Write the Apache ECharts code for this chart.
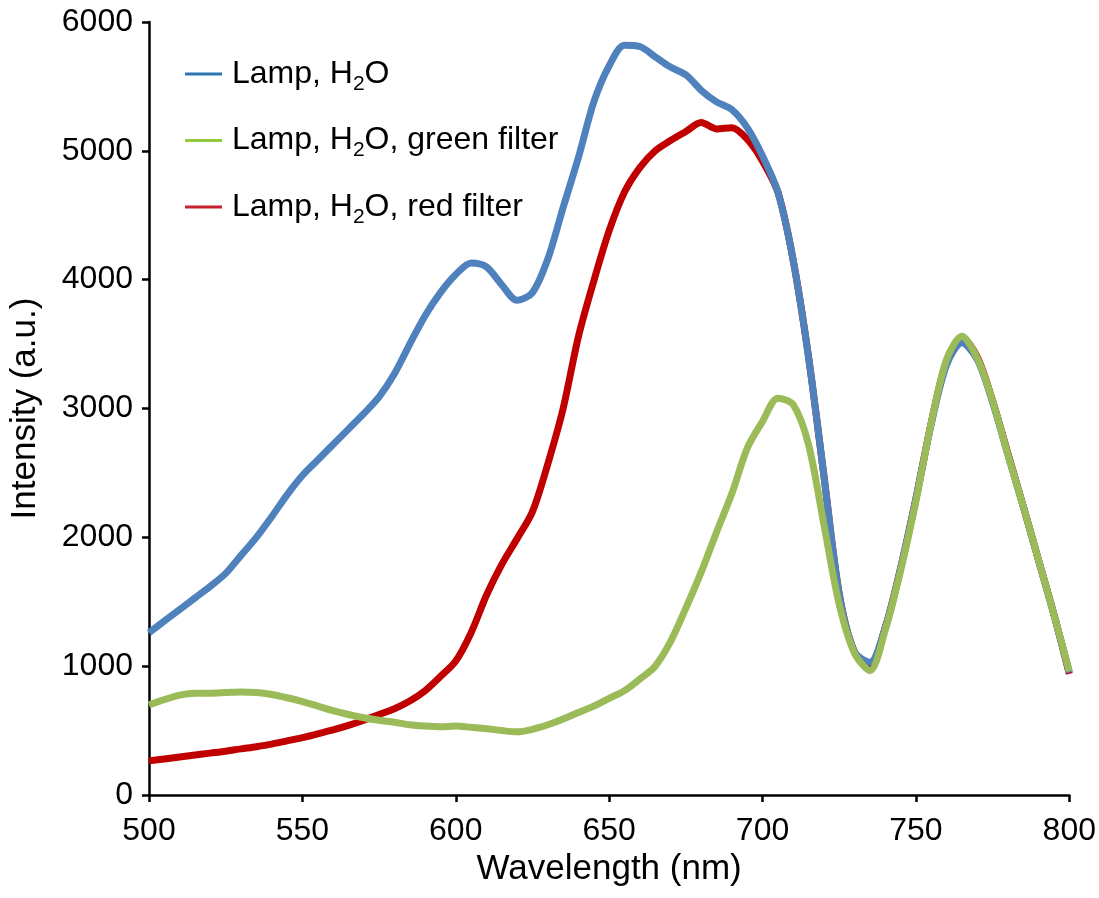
<!DOCTYPE html>
<html>
<head>
<meta charset="utf-8">
<script src="https://cdn.jsdelivr.net/npm/echarts@6/dist/echarts.min.js"></script>
<style>
  html, body { margin: 0; padding: 0; background: #fff; }
  #chart { width: 1099px; height: 898px; }
</style>
</head>
<body>
<div id="chart"></div>
<script>
// wavelength grid (nm), 5 nm step
const wavelengths = [
  500, 505, 510, 515, 520, 525, 530, 535, 540, 545,
  550, 555, 560, 565, 570, 575, 580, 585, 590, 595,
  600, 605, 610, 615, 620, 625, 630, 635, 640, 645,
  650, 655, 660, 665, 670, 675, 680, 685, 690, 695,
  700, 705, 710, 715, 720, 725, 730, 735, 740, 745,
  750, 755, 760, 765, 770, 775, 780, 785, 790, 795, 800
]

// Lamp, H2O
const lampWater = [
  1260, 1350, 1440, 1530, 1620, 1720, 1860, 2000, 2160, 2330,
  2480, 2600, 2720, 2840, 2960, 3090, 3270, 3500, 3720, 3900,
  4040, 4130, 4100, 3960, 3840, 3900, 4160, 4560, 4950, 5380,
  5660, 5820, 5810, 5730, 5650, 5590, 5470, 5380, 5320, 5180,
  4960, 4680, 4150, 3400, 2480, 1560, 1110, 1030, 1300, 1760,
  2300, 2880, 3340, 3510, 3380, 3050, 2640, 2240, 1820, 1400, 950
]

// Lamp, H2O, green filter
const greenFilter = [
  700, 740, 775, 790, 790, 795, 800, 795, 780, 755,
  725, 690, 655, 625, 600, 580, 565, 545, 535, 530,
  535, 525, 515, 500, 490, 510, 545, 590, 640, 690,
  750, 810, 900, 1000, 1190, 1450, 1730, 2040, 2340, 2690,
  2900, 3080, 3030, 2720, 2100, 1480, 1100, 965, 1280, 1740,
  2280, 2890, 3380, 3560, 3390, 3060, 2640, 2240, 1820, 1400, 960
]

// Lamp, H2O, red filter
const redFilter = [
  265, 280, 295, 310, 325, 340, 358, 375, 395, 420,
  445, 475, 505, 540, 580, 625, 670, 730, 810, 920,
  1040, 1260, 1550, 1790, 1990, 2200, 2570, 3000, 3560, 3990,
  4380, 4680, 4870, 5000, 5080, 5150, 5220, 5170, 5180, 5090,
  4920, 4680, 4150, 3400, 2480, 1560, 1110, 1020, 1300, 1760,
  2300, 2890, 3370, 3550, 3400, 3060, 2650, 2240, 1820, 1400, 940
]

const xTicks = { min: 500, max: 800, interval: 50 }
const yTicks = { min: 0, max: 6000, interval: 1000 }

const font = "'Liberation Sans', Arial, sans-serif"

function pairs(values) {
  return wavelengths.map((w, i) => [w, values[i]])
}

function legendLabel(name) {
  // H2O with a subscript 2
  return name.replace('H2O', 'H{sub|2}O')
}

const chart = echarts.init(document.getElementById('chart'))

const option = {
  backgroundColor: '#fff',
  animation: false,
  grid: {
    left: 149,
    right: 29,
    top: 22,
    bottom: 103
  },
  legend: {
    orient: 'vertical',
    left: 180,
    top: 53,
    itemWidth: 37,
    itemHeight: 3,
    itemGap: 30,
    icon: 'rect',
    data: [
      { name: 'Lamp, H2O', itemStyle: { color: '#2E75B6' } },
      { name: 'Lamp, H2O, green filter', itemStyle: { color: '#92C83E' } },
      { name: 'Lamp, H2O, red filter', itemStyle: { color: '#C8202F' } }
    ],
    formatter: legendLabel,
    textStyle: {
      fontFamily: font,
      fontSize: 32,
      color: '#000',
      padding: [0, 0, 0, 5],
      rich: {
        sub: {
          fontFamily: font,
          fontSize: 21,
          color: '#000',
          padding: [20, 0, 0, 0]
        }
      }
    }
  },
  xAxis: {
    type: 'value',
    min: xTicks.min,
    max: xTicks.max,
    interval: xTicks.interval,
    name: 'Wavelength (nm)',
    nameLocation: 'middle',
    nameGap: 52,
    nameTextStyle: { fontFamily: font, fontSize: 35, color: '#000' },
    axisLine: { lineStyle: { color: '#000', width: 2.5 } },
    axisTick: { show: true, inside: false, length: 7, lineStyle: { color: '#000', width: 2.5 } },
    axisLabel: { fontFamily: font, fontSize: 32, color: '#000', margin: 20 },
    splitLine: { show: false }
  },
  yAxis: {
    type: 'value',
    min: yTicks.min,
    max: yTicks.max,
    interval: yTicks.interval,
    name: 'Intensity (a.u.)',
    nameLocation: 'middle',
    nameGap: 106,
    nameTextStyle: { fontFamily: font, fontSize: 35, color: '#000' },
    axisLine: { show: true, lineStyle: { color: '#000', width: 2.5 } },
    axisTick: { show: true, inside: false, length: 7, lineStyle: { color: '#000', width: 2.5 } },
    axisLabel: {
      fontFamily: font,
      fontSize: 32,
      color: '#000',
      margin: 16,
      formatter: (v) => String(v)
    },
    splitLine: { show: false }
  },
  // draw order: red below, blue middle, green on top
  series: [
    {
      name: 'Lamp, H2O, red filter',
      type: 'line',
      data: pairs(redFilter),
      smooth: 0.3,
      showSymbol: false,
      lineStyle: { color: '#C00000', width: 7 },
      itemStyle: { color: '#C00000' }
    },
    {
      name: 'Lamp, H2O',
      type: 'line',
      data: pairs(lampWater),
      smooth: 0.3,
      showSymbol: false,
      lineStyle: { color: '#4F81BD', width: 7 },
      itemStyle: { color: '#4F81BD' }
    },
    {
      name: 'Lamp, H2O, green filter',
      type: 'line',
      data: pairs(greenFilter),
      smooth: 0.3,
      showSymbol: false,
      lineStyle: { color: '#9BBB59', width: 7 },
      itemStyle: { color: '#9BBB59' }
    }
  ]
}

chart.setOption(option)
</script>
</body>
</html>
